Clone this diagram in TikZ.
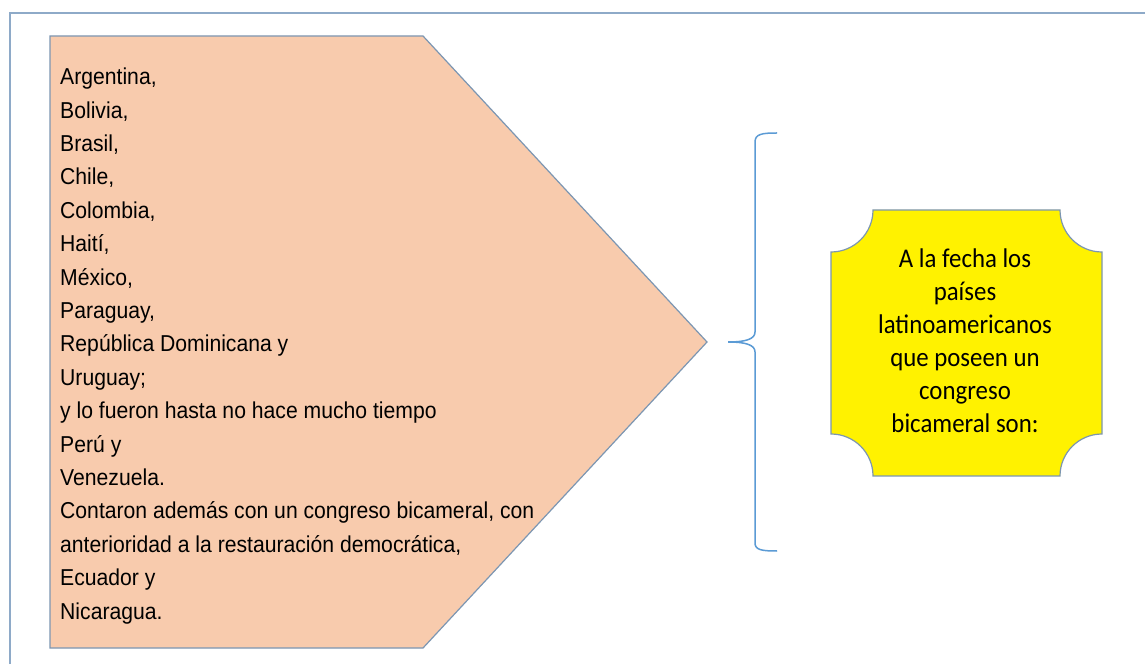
\documentclass[tikz,border=0pt]{standalone}
\usepackage{fontspec}
\setmainfont{Liberation Sans}[FakeStretch=0.92]
\newfontfamily\calib{Carlito}[FakeStretch=0.92]
\usepackage{tikz}
\definecolor{frameblue}{HTML}{8EAAC8}
\definecolor{edgegray}{HTML}{7C96B2}
\definecolor{peach}{HTML}{F8CBAD}
\definecolor{braceblue}{HTML}{5B9BD5}

\begin{document}
\begin{tikzpicture}[x=1pt,y=1pt,
  listtext/.style={align=left,inner sep=0pt,font={\fontsize{23}{33.4}\selectfont}},
  plaquetext/.style={align=center,inner sep=0pt,font={\calib\fontsize{27}{33}\selectfont}}]
\useasboundingbox (0,0) rectangle (1145,664);
\fill[white] (0,0) rectangle (1145,664);
\draw[frameblue, line width=2pt] (10,0) -- (10,651) -- (1145,651);
%%%%%draw the arrow shape
\draw[edgegray, fill=peach, line width=1.2pt] (50,628) -- (423,628) -- (707,322) -- (423,16) -- (50,16) -- cycle;
\node[listtext, anchor=north west] (paises) at (60,596.2) {Argentina,\\Bolivia,\\Brasil,\\Chile,\\Colombia,\\Haití,\\México,\\Paraguay,\\República Dominicana y\\Uruguay;\\y lo fueron hasta no hace mucho tiempo\\Perú y\\Venezuela.\\Contaron además con un congreso bicameral, con\\anterioridad a la restauración democrática,\\Ecuador y\\Nicaragua.};
%%%%%draw the brace
\draw[braceblue, line width=1.5pt] (777,531) .. controls (762,531) and (755,530) .. (755,522) -- (755,332) .. controls (755,325) and (746,322) .. (728,322);
\draw[braceblue, line width=1.5pt] (728,322) .. controls (746,322) and (755,319) .. (755,312) -- (755,121) .. controls (755,114) and (762,113) .. (777,113);
%%%%%draw the plaque
\draw[edgegray, fill=yellow, line width=1.2pt] (873,454) -- (1060,454) arc[start angle=180,end angle=270,radius=42] -- (1102,230) arc[start angle=90,end angle=180,radius=42] -- (873,188) arc[start angle=0,end angle=90,radius=42] -- (831,412) arc[start angle=270,end angle=360,radius=42] -- cycle;
\node[plaquetext] (titulo) at (965,323.5) {A la fecha los\\países\\latinoamericanos\\que poseen un\\congreso\\bicameral son:};
\end{tikzpicture}
\end{document}
